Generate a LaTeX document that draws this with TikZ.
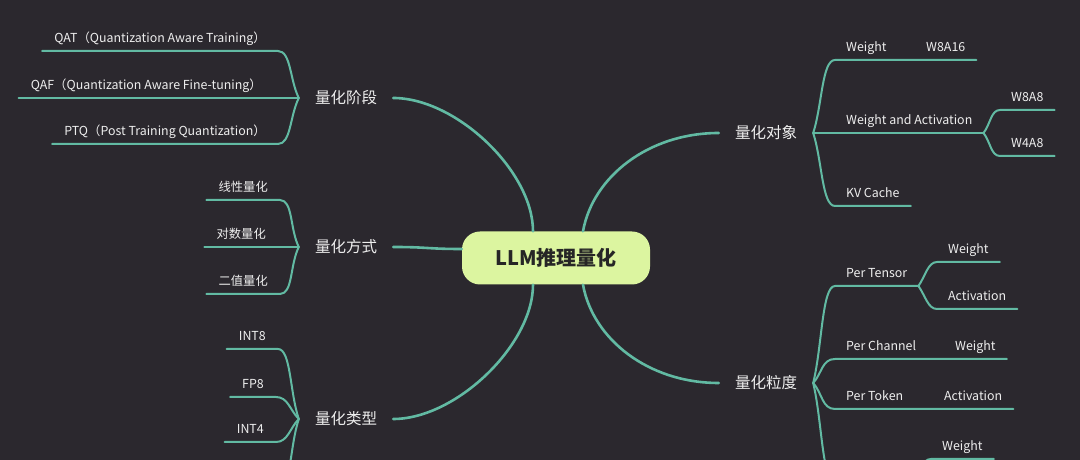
\documentclass[tikz,border=0pt]{standalone}
\usepackage{fontspec}
\setmainfont{Noto Sans CJK SC}
\usepackage{xcolor}
\definecolor{bgc}{HTML}{2B282E}
\definecolor{lnc}{HTML}{62BAA3}
\definecolor{rtc}{HTML}{DCF5A0}
\definecolor{txc}{HTML}{EEEEEE}
\begin{document}
\begin{tikzpicture}[x=1pt, y=1pt,
    every node/.style={font=\fontsize{12.4}{15}\selectfont, text=txc},
    rt/.style={rounded corners=18pt, fill=rtc, minimum width=188pt, minimum height=53pt, font=\fontsize{20}{24}\selectfont\bfseries, text=black!85},
    lb/.style={inner xsep=16pt, inner ysep=2pt, font=\fontsize{15.5}{18}\selectfont},
    lfl/.style={anchor=south east, inner xsep=12pt, inner ysep=4.5pt, text height=10pt, text depth=3.5pt},
    lfr/.style={anchor=south west, inner xsep=11pt, inner ysep=4.5pt, text height=10pt, text depth=3.5pt},
    cn/.style={font=\fontsize{12.3}{14}\selectfont},
    mn/.style={draw=lnc, line width=2.6pt, line cap=round},
    br/.style={draw=lnc, line width=2pt, line cap=round, line join=round}
]
\useasboundingbox (0,0) rectangle (1080,460);
\fill[bgc] (0,0) rectangle (1080,460);
\clip (0,0) rectangle (1080,460);

\node[rt] (root) at (556,202) {LLM推理量化};
\node[lb] (stage)  at (346,362) {量化阶段};
\node[lb] (method) at (346,213) {量化方式};
\node[lb] (kind)   at (346,41)  {量化类型};
\node[lb] (obj)    at (766,327) {量化对象};
\node[lb] (gran)   at (766,77)  {量化粒度};
\draw[mn] ([xshift=-23pt]root.north) .. controls +(0,60) and +(63,0) .. (stage.east);
\draw[mn] ([yshift=9pt]root.west) .. controls +(-35,0) and +(35,0) .. (method.east);
\draw[mn] ([xshift=-23pt]root.south) .. controls +(0,-60) and +(63,0) .. (kind.east);
\draw[mn] ([xshift=27pt]root.north) .. controls +(10,55) and +(-70,0) .. (obj.west);
\draw[mn] ([xshift=27pt]root.south) .. controls +(10,-55) and +(-70,0) .. (gran.west);

\node[lfl] (qat) at (278,409) {QAT（Quantization Aware Training）};
\node[lfl] (qaf) at (274,362) {QAF（Quantization Aware Fine-tuning）};
\node[lfl] (ptq) at (278,316) {PTQ（Post Training Quantization）};
\draw[br] (qat.south west) -- (qat.south east) .. controls +(13,0) and +(-9,18) .. (stage.west);
\draw[br] (qaf.south west) -- (stage.west);
\draw[br] (ptq.south west) -- (ptq.south east) .. controls +(13,0) and +(-9,-18) .. (stage.west);

\node[lfl,cn] (lin)  at (280,260) {线性量化};
\node[lfl,cn] (logq) at (278,213) {对数量化};
\node[lfl,cn] (bin)  at (280,166) {二值量化};
\draw[br] (lin.south west) -- (lin.south east) .. controls +(13,0) and +(-9,18) .. (method.west);
\draw[br] (logq.south west) -- (method.west);
\draw[br] (bin.south west) -- (bin.south east) .. controls +(13,0) and +(-9,-18) .. (method.west);

\node[lfl] (int8) at (278,111) {INT8};
\node[lfl] (fp8)  at (276,63)  {FP8};
\node[lfl] (int4) at (276,18)  {INT4};
\coordinate (kind4) at (278,-30);
\draw[br] (int8.south west) -- (int8.south east) .. controls +(13,0) and +(-9,26) .. (kind.west);
\draw[br] (fp8.south west) -- (fp8.south east) .. controls +(12,0) and +(-9,9) .. (kind.west);
\draw[br] (int4.south west) -- (int4.south east) .. controls +(12,0) and +(-9,-9) .. (kind.west);
\draw[br] (kind4) .. controls +(13,0) and +(-9,-27) .. (kind.west);

\node[lfr] (wt)   at (835,400)  {Weight};
\node[lfr] (w816) at (915,400)  {W8A16};
\node[lfr] (wa)   at (835,327)  {Weight and Activation};
\node[lfr] (w8a8) at (1000,350) {W8A8};
\node[lfr] (w4a8) at (1000,304) {W4A8};
\node[lfr] (kv)   at (835,254)  {KV Cache};
\draw[br] (obj.east) .. controls +(9,28) and +(-13,0) .. (wt.south west) -- (w816.south east);
\draw[br] (obj.east) -- (wa.south west) -- (wa.south east);
\draw[br] (wa.south east) .. controls +(7,9) and +(-9,0) .. (w8a8.south west) -- (w8a8.south east);
\draw[br] (wa.south east) .. controls +(7,-9) and +(-9,0) .. (w4a8.south west) -- (w4a8.south east);
\draw[br] (obj.east) .. controls +(9,-28) and +(-13,0) .. (kv.south west) -- (kv.south east);

\node[lfr] (pten)  at (835,174) {Per Tensor};
\node[lfr] (ptw)   at (937,198) {Weight};
\node[lfr] (pta)   at (937,151) {Activation};
\node[lfr] (pch)   at (835,101) {Per Channel};
\node[lfr] (pchw)  at (944,101) {Weight};
\node[lfr] (ptok)  at (835,51)  {Per Token};
\node[lfr] (ptoka) at (933,51)  {Activation};
\node[lfr] (grw)   at (931,1)   {Weight};
\coordinate (gran4) at (835,-22);
\coordinate (gr4j)  at (914,-22);
\draw[br] (gran.east) .. controls +(9,37) and +(-13,0) .. (pten.south west) -- (pten.south east);
\draw[br] (pten.south east) .. controls +(7,10) and +(-9,0) .. (ptw.south west) -- (ptw.south east);
\draw[br] (pten.south east) .. controls +(7,-10) and +(-9,0) .. (pta.south west) -- (pta.south east);
\draw[br] (gran.east) .. controls +(9,10) and +(-13,0) .. (pch.south west) -- (pchw.south east);
\draw[br] (gran.east) .. controls +(9,-10) and +(-13,0) .. (ptok.south west) -- (ptoka.south east);
\draw[br] (gran.east) .. controls +(9,-38) and +(-13,0) .. (gran4) -- (gr4j) .. controls +(7,10) and +(-9,0) .. (grw.south west) -- (grw.south east);
\end{tikzpicture}
\end{document}
